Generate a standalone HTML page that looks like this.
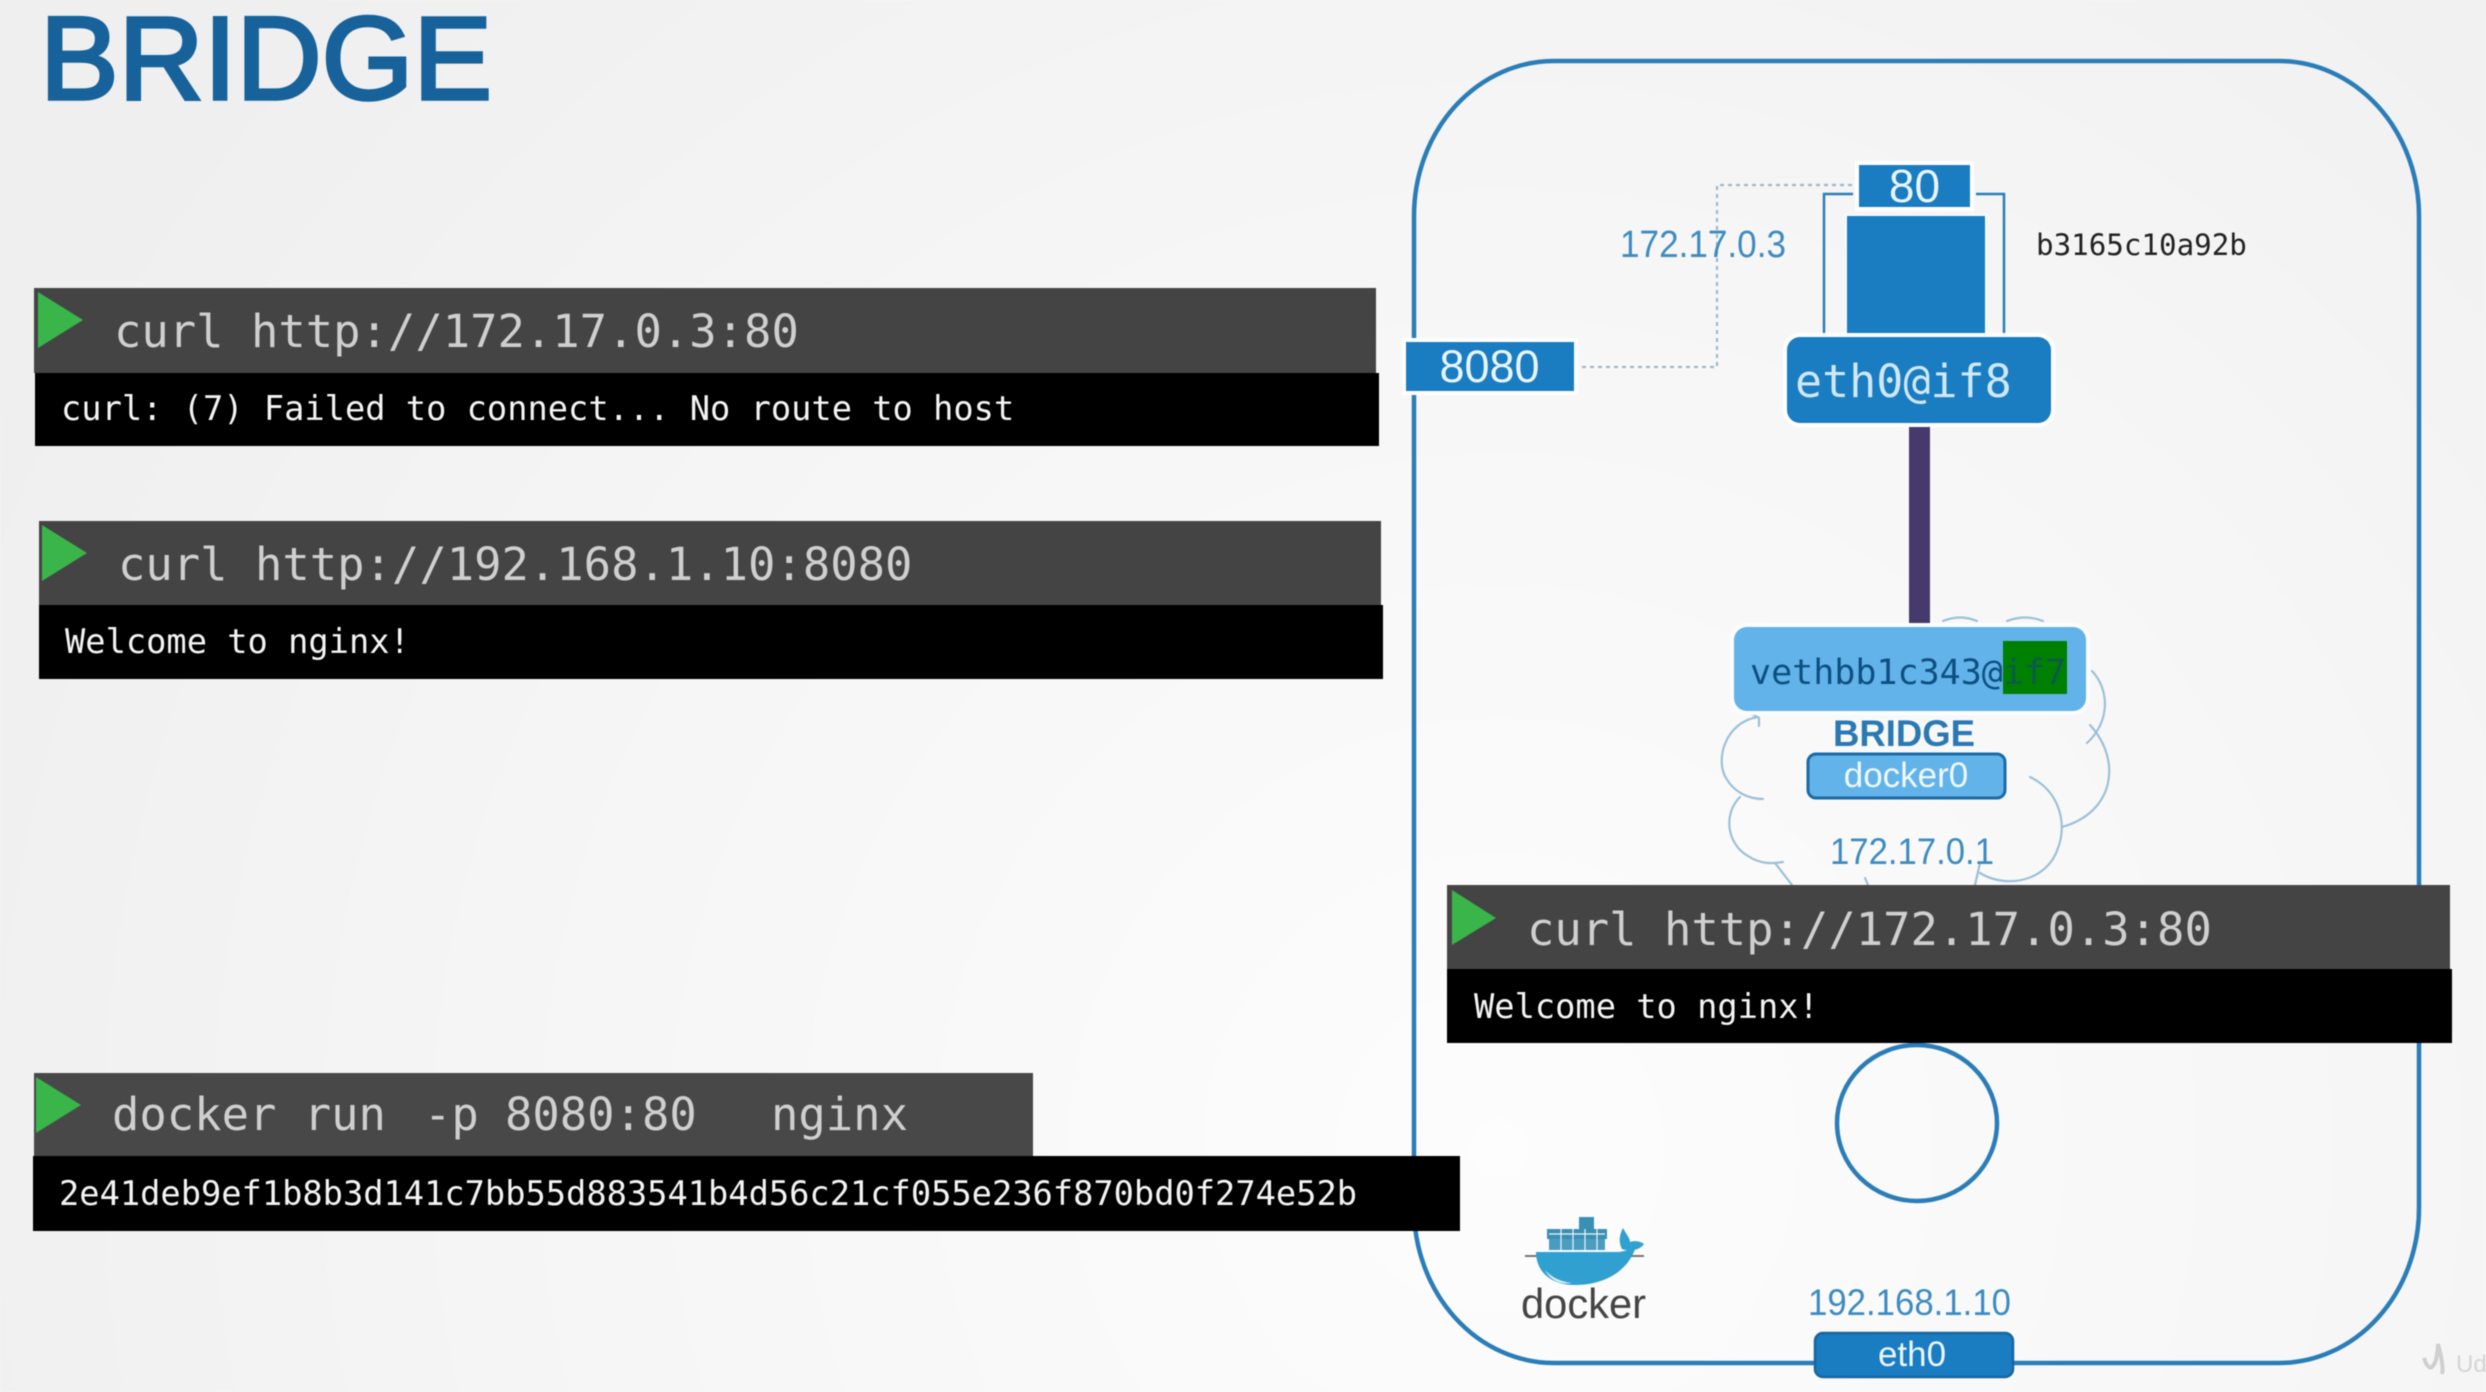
<!DOCTYPE html>
<html>
<head>
<meta charset="utf-8">
<title>Bridge</title>
<style>
html,body{margin:0;padding:0;width:2486px;height:1392px;overflow:hidden;background:#f5f5f5}
svg{display:block;position:absolute;left:0;top:0;filter:blur(0.5px)}
.m{font-family:"DejaVu Sans Mono","Liberation Mono",monospace}
.s{font-family:"Liberation Sans",sans-serif}
.cmd{font-size:45.5px;fill:#cfcfcf}
.out{font-size:33.7px;fill:#f4f4f4}
.ip{font-size:37px;fill:#3d8bc1}
.h{paint-order:stroke}
</style>
</head>
<body>
<svg width="2486" height="1392" viewBox="0 0 2486 1392" xmlns="http://www.w3.org/2000/svg">
<defs>
<radialGradient id="bg" gradientUnits="userSpaceOnUse" cx="1500" cy="1150" r="1700">
<stop offset="0" stop-color="#fdfdfd"/><stop offset="0.55" stop-color="#f6f6f6"/><stop offset="1" stop-color="#efefef"/>
</radialGradient>
</defs>
<rect width="2486" height="1392" fill="url(#bg)"/>

<!-- Title -->
<text class="s" x="40" y="99" font-size="118" fill="#17629b" stroke="#17629b" stroke-width="3.5" textLength="452" lengthAdjust="spacingAndGlyphs">BRIDGE</text>

<!-- Host outline -->
<rect x="1414" y="61" width="1005" height="1302" rx="140" ry="155" fill="none" stroke="#2a7db8" stroke-width="4.5"/>

<!-- Cloud -->
<g fill="none" stroke="#9cc0d8" stroke-width="2.2" stroke-linecap="round">
<path d="M1943 621 Q1960 614 1977 621"/>
<path d="M2007 621 Q2025 614 2043 621"/>
<path d="M2092 671 C2110 690 2110 722 2087 743"/>
<path d="M2090 725 C2122 760 2115 812 2062 827"/>
<path d="M2030 777 C2058 790 2068 822 2058 848 C2048 880 2008 890 1980 873"/>
<path d="M1758 717 C1725 722 1715 760 1726 778 C1734 792 1748 799 1763 799"/>
<path d="M1752 714 L1759 718 L1759 726"/>
<path d="M1740 797 C1722 815 1728 845 1748 856 C1760 864 1772 864 1783 862"/>
<path d="M1775 863 L1792 885"/>
<path d="M1865 878 L1868 885"/>
<path d="M1980 863 L1975 885"/>
</g>

<!-- Dotted port link -->
<path d="M1574 367 H1717 V185 H1860" fill="none" stroke="#9db8cc" stroke-width="2.2" stroke-dasharray="4 4"/>

<!-- Container -->
<path d="M1824 333 V194 H1853 M1976 194 H2004 V333" fill="none" stroke="#2a7db8" stroke-width="2.5"/>
<rect class="h" x="1847" y="216" width="138" height="118" fill="#1a7cc1" stroke="#f8fcff" stroke-width="3"/>
<rect class="h" x="1859" y="165" width="111" height="42" fill="#1a7cc1" stroke="#fff" stroke-width="8"/>
<text class="s" x="1914.5" y="202" font-size="46" fill="#e8f5fd" text-anchor="middle">80</text>
<text class="s" x="1620" y="257" font-size="38" fill="#3d8bc1" textLength="166" lengthAdjust="spacingAndGlyphs">172.17.0.3</text>
<text class="m" x="2036" y="255" font-size="29.2" fill="#222">b3165c10a92b</text>

<!-- Port 8080 -->
<rect class="h" x="1406" y="342" width="168" height="49" fill="#1a7cc1" stroke="#fff" stroke-width="8"/>
<text class="s" x="1489.5" y="382" font-size="45" fill="#e8f5fd" text-anchor="middle">8080</text>

<!-- eth0@if8 -->
<rect class="h" x="1787" y="337" width="264" height="86" rx="13" fill="#1a7cc1" stroke="#fff" stroke-width="8"/>
<text class="m" x="1795" y="397" font-size="45" fill="#cfe8f8">eth0@if8</text>

<!-- veth link -->
<rect x="1909" y="427" width="21" height="196" fill="#453a6b"/>

<!-- veth box -->
<rect class="h" x="1734" y="627" width="352" height="84" rx="13" fill="#62b3ea" stroke="#fbfdff" stroke-width="8"/>
<rect x="2003" y="641" width="64" height="53" fill="#008000"/>
<text class="m" x="1750" y="684" font-size="35" fill="#0d4f80">vethbb1c343@<tspan fill="#0a5a4c">if7</tspan></text>

<!-- Bridge -->
<text class="s" x="1833" y="746" font-size="37" font-weight="bold" fill="#2a79b4" textLength="142" lengthAdjust="spacingAndGlyphs">BRIDGE</text>
<rect x="1808" y="754" width="197" height="44" rx="8" fill="#62b3ea" stroke="#1a6aa6" stroke-width="3"/>
<text class="s" x="1906" y="787" font-size="35" fill="#eef8fe" text-anchor="middle">docker0</text>
<text class="s ip" x="1830" y="864" textLength="164" lengthAdjust="spacingAndGlyphs">172.17.0.1</text>

<!-- Circle -->
<ellipse cx="1917" cy="1123" rx="80" ry="78" fill="none" stroke="#2a7db8" stroke-width="4.5"/>

<!-- Terminal 1 -->
<rect x="34" y="288" width="1342" height="85" fill="#444"/>
<rect x="35" y="373" width="1344" height="73" fill="#000"/>
<polygon points="38,292 83,320 38,348" fill="#39b54a"/>
<text class="m cmd" x="114" y="347">curl http://172.17.0.3:80</text>
<text class="m out" x="61" y="420">curl: (7) Failed to connect... No route to host</text>

<!-- Terminal 2 -->
<rect x="39" y="521" width="1342" height="84" fill="#444"/>
<rect x="39" y="605" width="1344" height="74" fill="#000"/>
<polygon points="42,525 87,553 42,581" fill="#39b54a"/>
<text class="m cmd" x="118" y="580">curl http://192.168.1.10:8080</text>
<text class="m out" x="65" y="653">Welcome to nginx!</text>

<!-- Terminal 3 -->
<rect x="1447" y="885" width="1003" height="84" fill="#444"/>
<rect x="1447" y="969" width="1005" height="74" fill="#000"/>
<polygon points="1452,890 1496,918 1452,945" fill="#39b54a"/>
<text class="m cmd" x="1527" y="945">curl http://172.17.0.3:80</text>
<text class="m out" x="1474" y="1018">Welcome to nginx!</text>

<!-- Terminal 4 -->
<rect x="34" y="1073" width="999" height="83" fill="#484848"/>
<rect x="33" y="1156" width="1427" height="75" fill="#000"/>
<polygon points="36,1077 81,1105 36,1133" fill="#39b54a"/>
<text class="m cmd" y="1130"><tspan x="112">docker run</tspan><tspan x="424">-p</tspan><tspan x="505">8080:80</tspan><tspan x="771">nginx</tspan></text>
<text class="m out" x="59" y="1205">2e41deb9ef1b8b3d141c7bb55d883541b4d56c21cf055e236f870bd0f274e52b</text>

<!-- Docker logo -->
<g transform="translate(0,6)">
<rect x="1579" y="1211" width="15" height="12" fill="#3a8fb5"/>
<rect x="1547" y="1223" width="60" height="10" fill="#3a8fb5"/>
<rect x="1549" y="1233" width="56" height="11" fill="#4a9dbf"/>
<path d="M1549 1228 H1605 M1561 1223 V1244 M1573 1223 V1244 M1585 1223 V1244 M1597 1223 V1244" stroke="#eaf4f8" stroke-width="1.2"/>
<path d="M1525 1250 H1644" stroke="#777" stroke-width="2"/>
<path d="M1536 1246 L1617 1246 C1625 1246 1632 1242 1636 1240 C1630 1262 1608 1279 1575 1279 C1550 1279 1536 1265 1536 1246 Z" fill="#2fa0cf"/>
<path d="M1622 1243 C1618 1235 1620 1228 1623 1222 C1626 1228 1630 1232 1630 1236 C1636 1234 1641 1236 1644 1238 C1640 1244 1630 1246 1622 1243 Z" fill="#2fa0cf"/>
<path d="M1545 1264 C1552 1272 1562 1276 1572 1277 C1560 1279 1550 1274 1545 1264 Z" fill="#d8eef7"/>
</g>
<text class="s" x="1521" y="1318" font-size="42" fill="#444" textLength="125" lengthAdjust="spacingAndGlyphs">docker</text>

<!-- eth0 -->
<text class="s ip" x="1808" y="1315" textLength="203" lengthAdjust="spacingAndGlyphs">192.168.1.10</text>
<rect x="1815" y="1333" width="198" height="44" rx="8" fill="#1a7cc1" stroke="#17659f" stroke-width="2.5"/>
<text class="s" x="1912" y="1366" font-size="35" fill="#eaf6fd" text-anchor="middle">eth0</text>

<!-- Watermark -->
<path d="M2424 1358 Q2430 1376 2436 1360 Q2438 1350 2438 1344 Q2444 1366 2442 1374" fill="none" stroke="#cfcfcf" stroke-width="4"/>
<text class="s" x="2456" y="1372" font-size="24" fill="#d4d4d4">Ud</text>
</svg>
</body>
</html>
